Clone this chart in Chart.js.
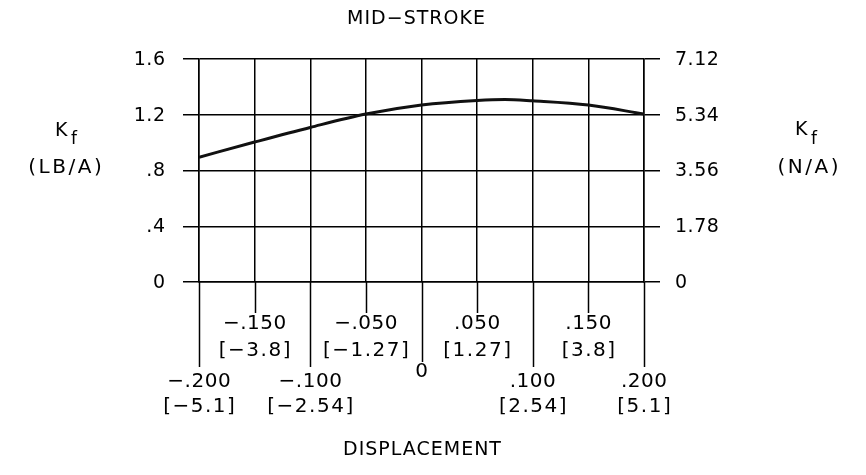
<!DOCTYPE html>
<html>
<head>
<meta charset="utf-8">
<script src="https://cdn.jsdelivr.net/npm/chart.js@4.4.1/dist/chart.umd.min.js"></script>
<style>
  body { margin: 0; background: #fff; }
</style>
</head>
<body>
<canvas id="myChart" width="866" height="475"></canvas>
<script>
// curve (displacement in inches, Kf in LB/A)
const dispIn = [-0.2, -0.15, -0.1, -0.05, 0, 0.05, 0.075, 0.1, 0.15, 0.2]
const kfLb = [0.895, 1.004, 1.109, 1.205, 1.27, 1.303, 1.31, 1.3, 1.27, 1.205]

// axis ticks
const xTicks = [-0.2, -0.15, -0.1, -0.05, 0, 0.05, 0.1, 0.15, 0.2]
const xLabelsIn = ["\u2212.200", "\u2212.150", "\u2212.100", "\u2212.050", "0", ".050", ".100", ".150", ".200"]
const xLabelsMm = ["[\u22125.1]", "[\u22123.8]", "[\u22122.54]", "[\u22121.27]", "", "[1.27]", "[2.54]", "[3.8]", "[5.1]"]
const leftTicks = [0, 0.4, 0.8, 1.2, 1.6]
const leftLabels = ["0", ".4", ".8", "1.2", "1.6"]
const rightTicks = [0, 1.78, 3.56, 5.34, 7.12]
const rightLabels = ["0", "1.78", "3.56", "5.34", "7.12"]

const FONT = '"DejaVu Sans", "Liberation Sans", Arial, sans-serif'
const INK = "#000"

function setTicks(values) {
    return (scale) => { scale.ticks = values.map(v => ({ value: v })) }
}

// text with letter spacing, aligned on its visible width
function spaced(ctx, text, x, y, spacing) {
    ctx.letterSpacing = spacing + "px"
    const w = ctx.measureText(text).width - spacing
    const align = ctx.textAlign
    ctx.textAlign = "left"
    let left = x
    if (align === "center") left = x - w / 2
    else if (align === "right") left = x - w
    ctx.fillText(text, left, y)
    ctx.textAlign = align
}

const drawingText = {
    id: "drawingText",
    afterDraw(chart) {
        const ctx = chart.ctx
        const xs = chart.scales.x
        const ys = chart.scales.y
        const ys2 = chart.scales.y2
        const area = chart.chartArea
        const bottom = area.bottom
        ctx.save()
        ctx.strokeStyle = INK
        ctx.lineWidth = 1.5
        ctx.fillStyle = INK
        ctx.textBaseline = "middle"
        ctx.font = "19px " + FONT

        // y tick labels, both sides
        ctx.textAlign = "right"
        leftTicks.forEach((v, i) => spaced(ctx, leftLabels[i], area.left - 34, ys.getPixelForValue(v) + 1, 0.5))
        ctx.textAlign = "left"
        rightTicks.forEach((v, i) => spaced(ctx, rightLabels[i], area.right + 31, ys2.getPixelForValue(v) + 1, 0.5))

        // x tick extensions and staggered labels
        ctx.textAlign = "center"
        ctx.font = "20px " + FONT
        xTicks.forEach((v, i) => {
            const px = xs.getPixelForValue(v)
            let end, y1, y2
            if (v === 0) { end = bottom + 80; y1 = bottom + 90 }
            else if (i % 2 === 1) { end = bottom + 31; y1 = bottom + 42; y2 = bottom + 69 }
            else { end = bottom + 85; y1 = bottom + 100; y2 = bottom + 125 }
            ctx.beginPath()
            ctx.moveTo(Math.round(px) + 0.5, bottom)
            ctx.lineTo(Math.round(px) + 0.5, end)
            ctx.stroke()
            spaced(ctx, xLabelsIn[i], px, y1, 0.5)
            if (xLabelsMm[i]) spaced(ctx, xLabelsMm[i], px, y2, 1.5)
        })

        ctx.font = "19px " + FONT
        spaced(ctx, "MID\u2212STROKE", 416, 19, 1)
        spaced(ctx, "DISPLACEMENT", 422, 450, 1)

        // Kf axis titles
        ctx.textAlign = "left"
        spaced(ctx, "K", 55, 131, 0)
        spaced(ctx, "K", 795, 130, 0)
        ctx.font = "17px " + FONT
        spaced(ctx, "f", 71, 140, 0)
        spaced(ctx, "f", 811, 140, 0)
        ctx.font = "20px " + FONT
        ctx.textAlign = "center"
        spaced(ctx, "(LB/A)", 65, 168, 2.5)
        spaced(ctx, "(N/A)", 808, 168, 2.5)
        ctx.restore()
    }
}

new Chart("myChart", {
    type: "line",
    data: {
        datasets: [{
            data: dispIn.map((x, i) => ({ x: x, y: kfLb[i] })),
            borderColor: "#111",
            borderWidth: 3,
            pointRadius: 0,
            cubicInterpolationMode: "monotone",
            fill: false,
            yAxisID: "y"
        }]
    },
    options: {
        responsive: false,
        animation: false,
        devicePixelRatio: 1,
        layout: { padding: { top: 59, left: 0, right: 0, bottom: 0 } },
        plugins: {
            legend: { display: false },
            title: { display: false },
            tooltip: { enabled: false }
        },
        scales: {
            x: {
                type: "linear",
                min: -0.2,
                max: 0.2,
                afterBuildTicks: setTicks(xTicks),
                afterFit: (s) => { s.height = 193 },
                ticks: { display: false },
                grid: { color: INK, lineWidth: 1.5, drawTicks: false },
                border: { color: INK, width: 1.5 }
            },
            y: {
                position: "left",
                min: 0,
                max: 1.6,
                afterBuildTicks: setTicks(leftTicks),
                afterFit: (s) => { s.width = 199 },
                ticks: { display: false },
                grid: { color: INK, lineWidth: 1.5, tickLength: 16 },
                border: { color: INK, width: 1.5 }
            },
            y2: {
                position: "right",
                min: 0,
                max: 7.12,
                afterBuildTicks: setTicks(rightTicks),
                afterFit: (s) => { s.width = 222 },
                ticks: { display: false },
                grid: { color: INK, lineWidth: 1.5, tickLength: 16, drawOnChartArea: false },
                border: { color: INK, width: 1.5 }
            }
        }
    },
    plugins: [drawingText]
})
</script>
</body>
</html>
